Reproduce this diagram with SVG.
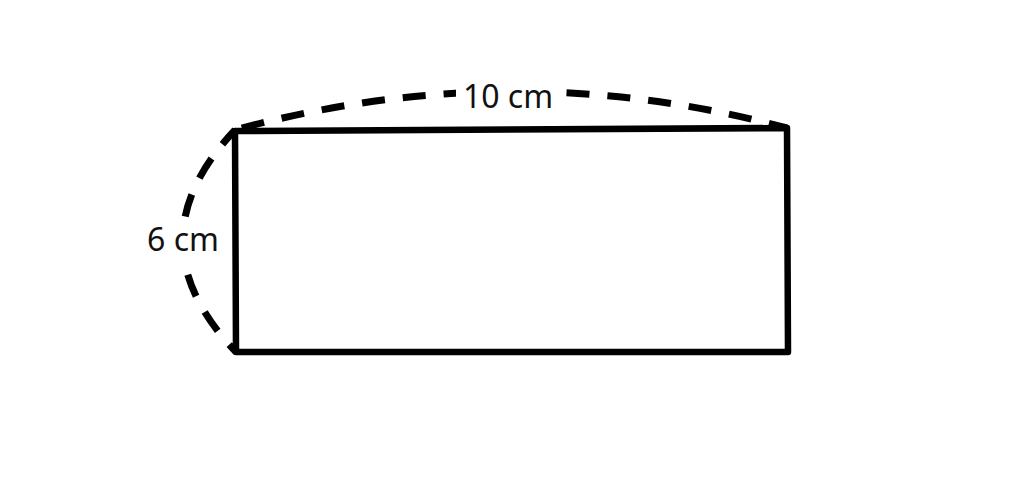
<svg xmlns="http://www.w3.org/2000/svg" width="1024" height="486" viewBox="0 0 1024 486">
<style>
.edge{fill:none;stroke:#000;stroke-width:6.5;stroke-linejoin:round;stroke-linecap:butt}
.dash{fill:none;stroke:#000;stroke-width:7;stroke-dasharray:23 18}
.lbl{font-family:"Noto Sans","Open Sans",sans-serif;font-size:32px;fill:#111;text-anchor:middle}
</style>
<rect width="1024" height="486" fill="#fff"/>
<g id="connectors">
<path class="dash" d="M235,130 Q511,54 787,128" stroke-dashoffset="34"/>
<path class="dash" d="M235,130 Q130,241 236,352" stroke-dashoffset="4"/>
</g>
<g id="rectangle">
<polygon class="edge" points="235,131 787,128 788,352 236,352"/>
</g>
<g id="label-top">
<rect x="456" y="78" width="110" height="36" fill="#fff"/>
<text class="lbl" x="508" y="108">10 cm</text>
</g>
<g id="label-left">
<rect x="143" y="222" width="80" height="38" fill="#fff"/>
<text class="lbl" x="183" y="251">6 cm</text>
</g>
</svg>
